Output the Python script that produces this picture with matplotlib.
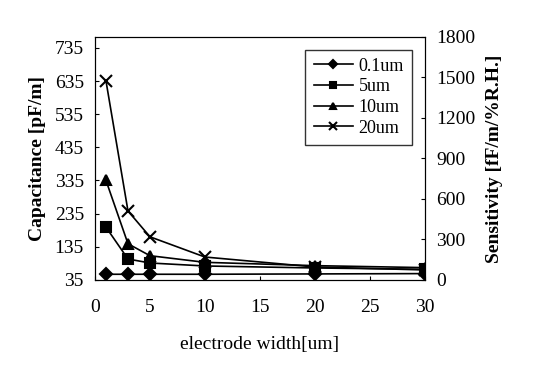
import matplotlib
matplotlib.use('Agg')
import matplotlib.pyplot as plt

plt.rcParams['font.family'] = ['Liberation Serif', 'DejaVu Serif']

widths = [1, 3, 5, 10, 20, 30]
cap_01um = [52, 52, 52, 52, 53, 54]
cap_5um = [194, 98, 86, 77, 71, 67]
cap_10um = [335, 144, 108, 88, 78, 72]
cap_20um = [635, 243, 165, 104, 74, 65]

series = [('0.1um', cap_01um, 'D'),
          ('5um', cap_5um, 's'),
          ('10um', cap_10um, '^'),
          ('20um', cap_20um, 'x')]

left_ticks = [35, 135, 235, 335, 435, 535, 635, 735]
right_ticks = [0, 300, 600, 900, 1200, 1500, 1800]
x_ticks = [0, 5, 10, 15, 20, 25, 30]

fig = plt.figure(figsize=(5.46, 3.85), dpi=100)
ax = fig.add_axes([0.174, 0.273, 0.604, 0.631])

for name, vals, mk in series:
    ms = 8 if mk == 'x' else 6.5
    ax.plot(widths, vals, color='black', lw=1.2, marker=mk, ms=ms,
            mew=1.5, label=name)

ax.set_xlim(0, 30)
ax.set_ylim(35, 768)
ax.set_xticks(x_ticks)
ax.set_yticks(left_ticks)
ax.tick_params(axis='y', direction='in', length=3, labelsize=14, pad=8)
ax.tick_params(axis='x', direction='in', length=3, labelsize=14, pad=14)
ax.set_xlabel('electrode width[um]', fontsize=14, labelpad=14)
ax.set_ylabel('Capacitance [pF/m]', fontsize=14, fontweight='bold', labelpad=6)

ax2 = ax.twinx()
ax2.set_ylim(0, 1800)
ax2.set_yticks(right_ticks)
ax2.tick_params(direction='in', length=3, labelsize=14, pad=8)
ax2.set_ylabel('Sensitivity [fF/m/%R.H.]', fontsize=14, fontweight='bold',
               labelpad=8)

leg = ax.legend(loc='upper right', fontsize=13, frameon=True, fancybox=False,
                edgecolor='black', handlelength=2.2, markerscale=0.7,
                borderaxespad=0.7, labelspacing=0.2, handletextpad=0.3,
                borderpad=0.45)
leg.get_frame().set_linewidth(1.0)

fig.savefig('out.png', dpi=100)
